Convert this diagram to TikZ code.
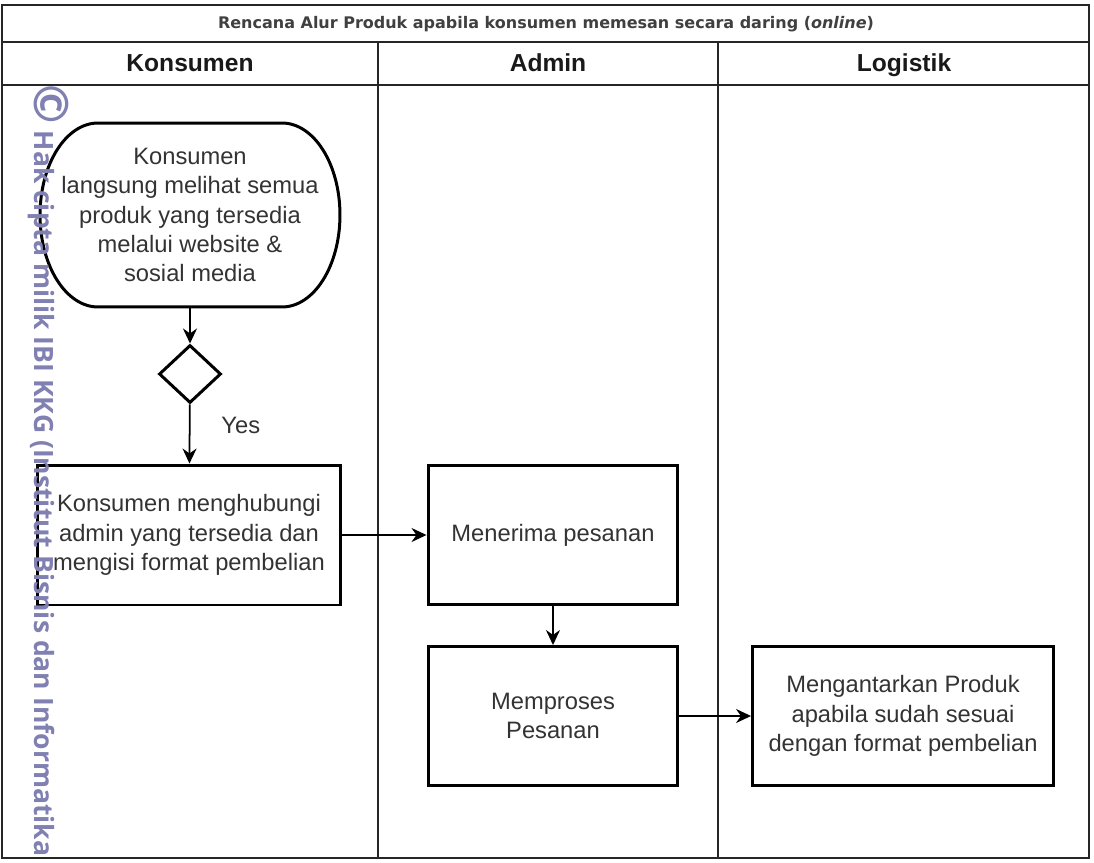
\documentclass[tikz,border=0pt]{standalone}
\usepackage{fontspec}
\setmainfont{Liberation Sans}
\newfontfamily\titlefont{DejaVu Sans}
\newfontfamily\markfont{Open Sans}
\usetikzlibrary{arrows.meta, shapes.geometric}
\newcommand{\flowArrow}{{Stealth[length=3mm, width=2.8mm]}}
\definecolor{markcolor}{RGB}{128,128,178}
\definecolor{inkgray}{RGB}{51,51,51}

\tikzset{
	lane/.style={draw=black!85, line width=0.8pt},
	header/.style={font=\fontsize{14}{16}\selectfont\bfseries, text=black!90, anchor=base},
	box/.style={draw, line width=1.7pt, align=center, text=inkgray, font=\fontsize{13.5}{16.6}\selectfont, inner sep=2pt},
	flow/.style={line width=1pt, -\flowArrow},
}

\begin{document}
\begin{tikzpicture}[x=0.02cm, y=-0.02cm]
	\useasboundingbox (0,0) rectangle (1094,862);
	\fill[white] (0,0) rectangle (1094,862);
	
	% lanes
	\draw[lane] (2,5) rectangle (1089,858);
	\draw[lane] (2,42) -- (1089,42);
	\draw[lane] (2,85) -- (1089,85);
	\draw[lane] (378,42) -- (378,858);
	\draw[lane] (718,42) -- (718,858);
	
	\node[font=\titlefont\bfseries\fontsize{9.1}{11}\selectfont, text=black!75] (judul) at (546,24) {Rencana Alur Produk apabila konsumen memesan secara daring (\textit{online})};
	\node[header] (hkonsumen) at (190,71) {Konsumen};
	\node[header] (hadmin) at (548,71) {Admin};
	\node[header] (hlogistik) at (904,71) {Logistik};
	
	% start terminator
	\node[box, draw=none, outer sep=0pt, minimum width=6cm, minimum height=3.68cm] (mulai) at (190,215) {Konsumen\\langsung melihat semua\\produk yang tersedia\\melalui website \&\\sosial media};
	\draw[line width=1.7pt] ([xshift=1.16cm]mulai.north west) -- ([xshift=-1.16cm]mulai.north east) arc[start angle=90, end angle=-90, x radius=1.16cm, y radius=1.84cm] -- ([xshift=1.16cm]mulai.south west) arc[start angle=270, end angle=90, x radius=1.16cm, y radius=1.84cm] -- cycle;
	
	\node[draw, diamond, line width=1.7pt, minimum width=1.24cm, minimum height=1.16cm, inner sep=0pt] (cek) at (190,374) {};
	\node[box, minimum width=6.06cm, minimum height=2.8cm] (kontak) at (189,535) {Konsumen menghubungi\\admin yang tersedia dan\\mengisi format pembelian};
	\node[box, minimum width=5cm, minimum height=2.78cm] (terima) at (553,535) {Menerima pesanan};
	\node[box, minimum width=5cm, minimum height=2.78cm] (proses) at (553,716) {Memproses\\Pesanan};
	\node[box, minimum width=6.02cm, minimum height=2.78cm] (antar) at (903,716) {Mengantarkan Produk\\apabila sudah sesuai\\dengan format pembelian};
	
	\draw[flow] (mulai) -- (cek);
	\draw[flow] (cek) -- node[pos=0.35, right=0.5cm, text=inkgray, font=\fontsize{13.5}{16}\selectfont] (ya) {Yes} (kontak);
	\draw[flow] (kontak) -- (terima);
	\draw[flow] (terima) -- (proses);
	\draw[flow] (proses) -- (antar);
	
	% watermark
	\node[rotate=-90, anchor=west, text=markcolor, font=\markfont\bfseries\fontsize{15.1}{15}\selectfont, inner sep=0pt] (cipta) at (48,84) {{\fontsize{27}{27}\selectfont ©} Hak cipta milik IBI KKG (Institut Bisnis dan Informatika};
\end{tikzpicture}
\end{document}
